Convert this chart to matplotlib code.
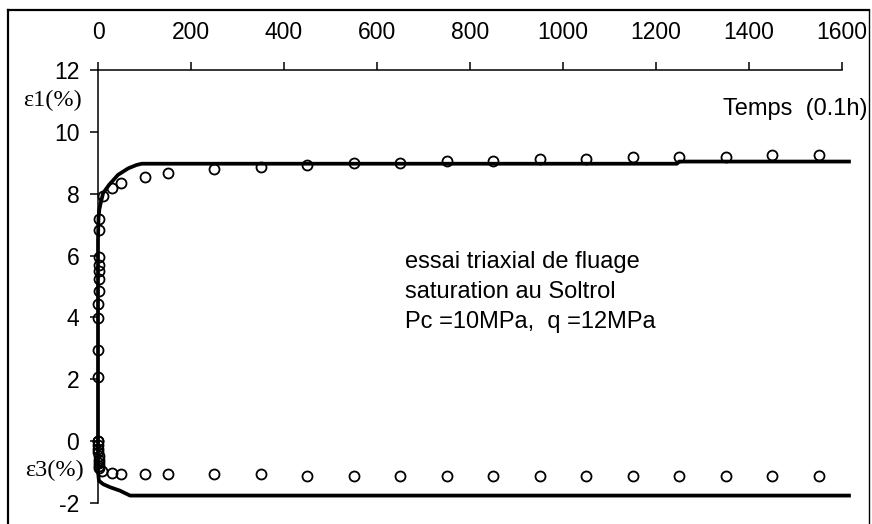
import matplotlib
matplotlib.use("Agg")
import matplotlib.pyplot as plt
from matplotlib.lines import Line2D

# Measured creep strains (time in units of 0.1 h)
t_e1 = [0, 0.3, 0.5, 0.8, 1.0, 1.2, 1.4, 1.6, 1.8, 2.0, 2.2, 2.5,
        10, 30, 50, 100, 150, 250, 350, 450, 550, 650, 750, 850,
        950, 1050, 1150, 1250, 1350, 1450, 1550]
e1 = [0.0, 2.07, 2.94, 3.97, 4.45, 4.85, 5.25, 5.49, 5.71, 5.96, 6.82, 7.19,
      7.91, 8.18, 8.34, 8.53, 8.67, 8.80, 8.86, 8.94, 8.99, 8.99, 9.07, 9.06,
      9.13, 9.13, 9.20, 9.20, 9.20, 9.26, 9.26]

t_e3 = [0, 0.3, 0.6, 0.9, 1.2, 1.5, 1.8, 2.2, 2.6, 8, 30, 50,
        100, 150, 250, 350, 450, 550, 650, 750, 850, 950, 1050,
        1150, 1250, 1350, 1450, 1550]
e3 = [0.0, -0.12, -0.24, -0.36, -0.48, -0.6, -0.7, -0.8, -0.88, -0.98, -1.03, -1.06,
      -1.06, -1.06, -1.06, -1.06, -1.12, -1.12, -1.12, -1.12, -1.12, -1.12, -1.12,
      -1.12, -1.12, -1.12, -1.12, -1.12]

# Model curves
t_fit1 = [0, 0, 1, 3, 6, 11, 24, 43, 65, 83, 94, 1245, 1250, 1615]
e1_fit = [0.0, 6.5, 7.2, 7.5, 7.71, 8.02, 8.29, 8.61, 8.82, 8.93, 8.97, 8.97, 9.04, 9.04]

t_fit3 = [0, 0, 2, 11, 26, 47, 69, 1615]
e3_fit = [0.0, -1.0, -1.28, -1.39, -1.49, -1.6, -1.76, -1.76]

x_ticks = [0, 200, 400, 600, 800, 1000, 1200, 1400, 1600]
y_ticks = [-2, 0, 2, 4, 6, 8, 10, 12]

W, H = 872, 524
fig = plt.figure(figsize=(W / 100, H / 100), dpi=100)
ax = fig.add_axes([98 / W, 1 - 503 / H, (842 - 98) / W, (503 - 70) / H])

sans = "Liberation Sans"
serif = "Liberation Serif"
tick_fs = 16.5
text_fs = 17

ax.plot(t_fit1, e1_fit, color="black", lw=2.7, clip_on=False, zorder=3,
        solid_joinstyle="round")
ax.plot(t_fit3, e3_fit, color="black", lw=2.7, clip_on=False, zorder=3,
        solid_joinstyle="round")
ax.plot(t_e1, e1, linestyle="none", marker="o", ms=7.2, mfc="none",
        mec="black", mew=1.3, clip_on=False, zorder=4)
ax.plot(t_e3, e3, linestyle="none", marker="o", ms=7.2, mfc="none",
        mec="black", mew=1.3, clip_on=False, zorder=4)

ax.set_xlim(0, 1600)
ax.set_ylim(-2, 12)
ax.xaxis.tick_top()
ax.set_xticks(x_ticks)
ax.set_yticks(y_ticks)
ax.set_xticklabels([str(v) for v in x_ticks], fontfamily=sans, fontsize=tick_fs)
ax.set_yticklabels([str(v) for v in y_ticks], fontfamily=sans, fontsize=tick_fs)
ax.tick_params(axis="x", direction="out", length=5.5, width=1.1, pad=13)
ax.tick_params(axis="y", direction="out", length=5.5, width=1.1, pad=8)

for side in ("bottom", "right"):
    ax.spines[side].set_visible(False)
for side in ("top", "left"):
    ax.spines[side].set_linewidth(1.1)
ax.set_facecolor("none")

# Axis captions
fig.text(23 / W, 1 - 100 / H, "ε1(%)", fontfamily=serif, fontsize=17.5,
         ha="left", va="center")
fig.text(25 / W, 1 - 470 / H, "ε3(%)", fontfamily=serif, fontsize=17.5,
         ha="left", va="center")
fig.text(867 / W, 1 - 109 / H, "Temps  (0.1h)", fontfamily=sans, fontsize=text_fs,
         ha="right", va="center")

# Test conditions
notes = ["essai triaxial de fluage", "saturation au Soltrol",
         "Pc =10MPa,  q =12MPa"]
for i, line in enumerate(notes):
    fig.text(405 / W, 1 - (262 + 30 * i) / H, line, fontfamily=sans,
             fontsize=text_fs, ha="left", va="center")

# Outer frame
frame_kw = dict(color="black", lw=1.6, transform=fig.transFigure)
fig.add_artist(Line2D([8 / W, 8 / W], [1 - 10 / H, 0], **frame_kw))
fig.add_artist(Line2D([8 / W, 869 / W], [1 - 10 / H, 1 - 10 / H], **frame_kw))
fig.add_artist(Line2D([869 / W, 869 / W], [1 - 10 / H, 0], color="black",
                      lw=1.0, transform=fig.transFigure))

fig.savefig("out.png", dpi=100)
